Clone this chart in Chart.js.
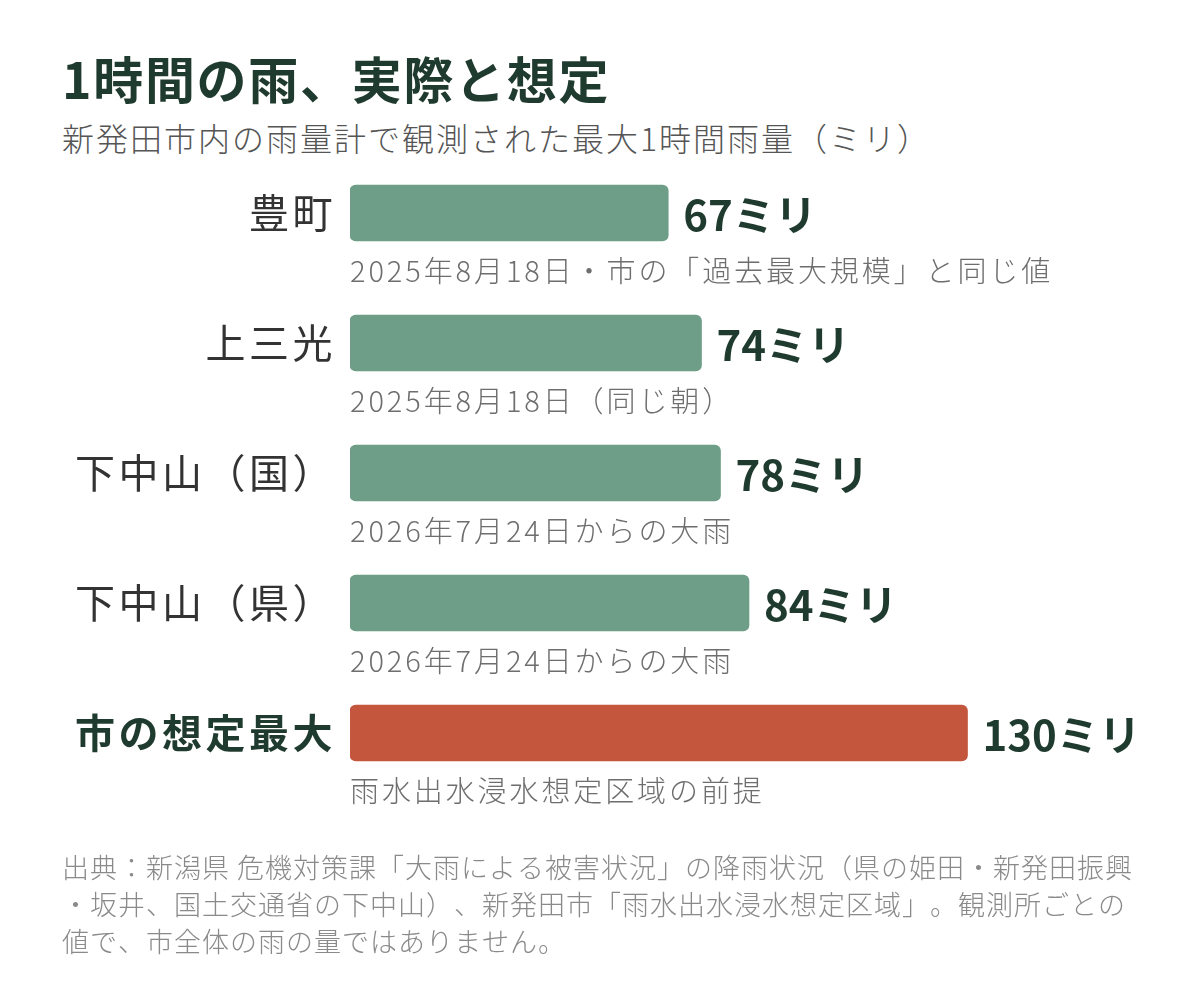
<!DOCTYPE html>
<html lang="ja">
<head>
<meta charset="utf-8">
<script src="https://cdn.jsdelivr.net/npm/chart.js@4/dist/chart.umd.min.js"></script>
<style>
  html, body { margin: 0; padding: 0; background: #fff; }
  body { width: 1200px; height: 992px; position: relative; overflow: hidden;
         font-family: "Noto Sans CJK JP", "Noto Sans", sans-serif; }
  #title { position: absolute; left: 62px; top: 45px; font-size: 50px; font-weight: 700;
           color: #1f3a2e; line-height: 64px; letter-spacing: 1.7px; }
  #sub { position: absolute; left: 62px; top: 116px; font-size: 32px; font-weight: 300; color: #555;
         line-height: 42px; letter-spacing: 2px; }
  #note { position: absolute; left: 62px; top: 848px; font-size: 27px; font-weight: 300; color: #8a8a8a;
          line-height: 37px; letter-spacing: 1px; font-kerning: none; white-space: nowrap;
          text-spacing-trim: space-all; }
  #wrap { position: absolute; left: 0; top: 0; width: 1200px; height: 992px; }
</style>
</head>
<body>
<div id="title">1時間の雨、実際と想定</div>
<div id="sub">新発田市内の雨量計で観測された最大1時間雨量（ミリ）</div>
<div id="wrap"><canvas id="chart"></canvas></div>
<div id="note">出典：新潟県 危機対策課「大雨による被害状況」の降雨状況（県の姫田・新発田振興<br>・坂井、国土交通省の下中山）、新発田市「雨水出水浸水想定区域」。観測所ごとの<br>値で、市全体の雨の量ではありません。</div>
<script>
(function () {
	'use strict';

	var places = ['豊町', '上三光', '下中山（国）', '下中山（県）', '市の想定最大'];
	var rain = [67, 74, 78, 84, 130];
	var notes = [
		'2025年8月18日・市の「過去最大規模」と同じ値',
		'2025年8月18日（同じ朝）',
		'2026年7月24日からの大雨',
		'2026年7月24日からの大雨',
		'雨水出水浸水想定区域の前提'
	];
	var colors = ['#6e9e87', '#6e9e87', '#6e9e87', '#6e9e87', '#c4563e'];

	var fontFamily = '"Noto Sans CJK JP", "Noto Sans", sans-serif';

	// wider spacing for the category labels only
	var spacing = {
		id: 'spacing',
		beforeDraw: function (chart) { chart.ctx.letterSpacing = '3.5px'; },
		beforeDatasetsDraw: function (chart) { chart.ctx.letterSpacing = '0px'; }
	};

	// value + caption next to / under each bar
	var barText = {
		id: 'barText',
		afterDatasetsDraw: function (chart) {
			var ctx = chart.ctx;
			var meta = chart.getDatasetMeta(0);
			var x0 = chart.scales.x.getPixelForValue(0);
			ctx.save();
			meta.data.forEach(function (bar, i) {
				ctx.textBaseline = 'middle';
				ctx.textAlign = 'left';

				ctx.letterSpacing = '0px';
				ctx.fillStyle = '#1f3a2e';
				ctx.font = '700 42px ' + fontFamily;
				ctx.fillText(rain[i] + 'ミリ', bar.x + 15, bar.y + 2);

				ctx.letterSpacing = '2.9px';
				ctx.fillStyle = '#6e6e6e';
				ctx.font = '300 29px ' + fontFamily;
				ctx.fillText(notes[i], x0, bar.y + 58);
			});
			ctx.restore();
		}
	};

	new Chart(document.getElementById('chart'), {
		type: 'bar',
		data: {
			labels: places,
			datasets: [{
				data: rain,
				backgroundColor: colors,
				borderRadius: 6,
				borderSkipped: false,
				barThickness: 56
			}]
		},
		options: {
			indexAxis: 'y',
			responsive: true,
			maintainAspectRatio: false,
			animation: false,
			layout: { padding: { left: 0, top: 148, bottom: 194, right: 42.5 } },
			plugins: {
				legend: { display: false },
				tooltip: { enabled: false }
			},
			scales: {
				x: {
					display: false,
					min: 0,
					max: 170
				},
				y: {
					afterFit: function (scale) { scale.width = 350; },
					grid: { display: false, drawTicks: false },
					border: { display: false },
					ticks: {
						padding: 14,
						color: function (c) { return c.index === 4 ? '#1f3a2e' : '#333'; },
						font: function (c) {
							return c.index === 4
								? { family: fontFamily, size: 40, weight: '700' }
								: { family: fontFamily, size: 40, weight: '400' };
						}
					}
				}
			}
		},
		plugins: [spacing, barText]
	});
})();
</script>
</body>
</html>
